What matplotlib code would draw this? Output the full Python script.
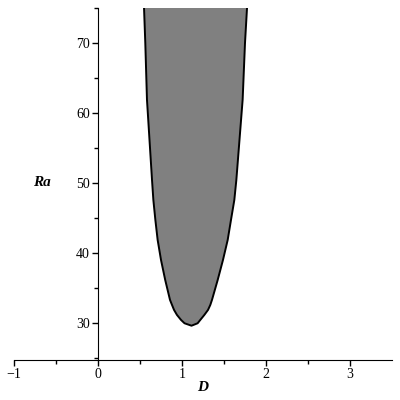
import numpy as np
import matplotlib
matplotlib.use("Agg")
import matplotlib.pyplot as plt
from matplotlib.ticker import FixedLocator

# boundary of the unstable region
ra_levels = [75, 70, 61.9, 50.43, 47.57, 44.7, 41.86, 39.0, 36.14, 33.29,
             32.57, 31.86, 31.14, 30.43, 29.95, 29.6]
d_left = [0.548, 0.563, 0.583, 0.643, 0.659, 0.683, 0.71, 0.75, 0.80, 0.857,
          0.881, 0.905, 0.94, 0.988, 1.03, 1.113]
d_right = [1.774, 1.75, 1.722, 1.647, 1.623, 1.583, 1.544, 1.488, 1.425, 1.357,
           1.337, 1.31, 1.266, 1.218, 1.186, 1.113]

x_ticks = [-1, 0, 1, 2, 3]
y_ticks = [30, 40, 50, 60, 70]

plt.rcParams['font.family'] = ['Liberation Serif', 'DejaVu Serif']

fig = plt.figure(figsize=(4, 4), dpi=100)
ax = fig.add_axes([0.035, 0.10, 0.945, 0.88])

# closed polygon: down the left side, back up the right side
poly_x = d_left + d_right[::-1][1:]
poly_y = ra_levels + ra_levels[::-1][1:]
ax.fill(poly_x, poly_y, color='#808080', lw=0)
ax.plot(poly_x, poly_y, color='black', lw=1.4, solid_joinstyle='round')

ax.set_xlim(-1, 3.5)
ax.set_ylim(24.7, 75)

ax.spines['top'].set_visible(False)
ax.spines['right'].set_visible(False)
ax.spines['left'].set_position(('data', 0))
ax.spines['left'].set_bounds(24.7, 75)

ax.set_xticks(x_ticks)
ax.set_xticklabels(['\u22121', '0', '1', '2', '3'])
ax.xaxis.set_minor_locator(FixedLocator([-0.5, 0.5, 1.5, 2.5]))
ax.set_yticks(y_ticks)
ax.yaxis.set_minor_locator(FixedLocator([25, 35, 45, 55, 65, 75]))
ax.tick_params(which='major', length=4, width=1, labelsize=10, pad=2)
ax.tick_params(which='minor', length=3, width=1)

ax.set_xlabel('D', fontweight='bold', style='italic', fontsize=11, labelpad=0)
ax.text(-0.67, 50, 'Ra', fontweight='bold', style='italic', fontsize=11,
        ha='center', va='center')

fig.savefig('out.png', dpi=100)
